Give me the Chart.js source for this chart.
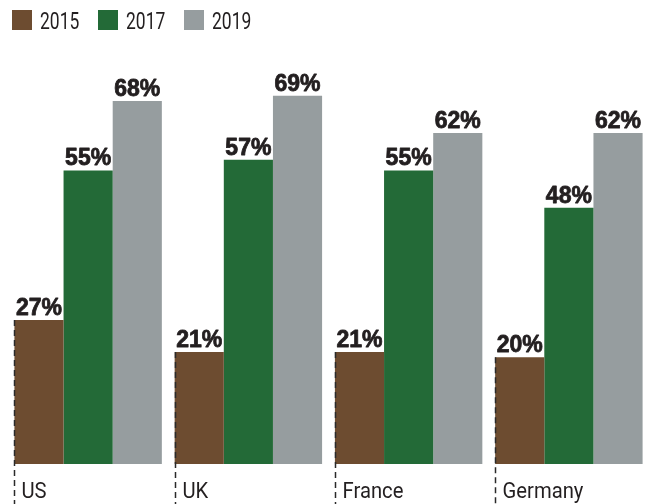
<!DOCTYPE html>
<html>
<head>
<meta charset="utf-8">
<script src="https://cdn.jsdelivr.net/npm/chart.js@4"></script>
<style>
  html, body { margin: 0; padding: 0; background: #ffffff; }
  #wrap { width: 651px; height: 504px; }
</style>
</head>
<body>
<div id="wrap"><canvas id="chart" width="651" height="504"></canvas></div>
<script>
const countries = ["US", "UK", "France", "Germany"];
const years = ["2015", "2017", "2019"];
const values2015 = [27, 21, 21, 20];
const values2017 = [55, 57, 55, 48];
const values2019 = [68, 69, 62, 62];
const colors = ["#6d4c30", "#236a37", "#969d9f"];

const textColor = "#231f20";

// draws condensed-looking text by squeezing it horizontally
function narrowText(ctx, text, x, y, squeeze) {
    ctx.save();
    ctx.translate(x, y);
    ctx.scale(squeeze, 1);
    ctx.fillText(text, 0, 0);
    ctx.restore();
}

// legend, value labels, country labels and the dashed separators
const decorations = {
    id: "decorations",
    afterDatasetsDraw(chart) {
        const ctx = chart.ctx;
        ctx.save();

        // value labels above each bar (a thin stroke makes them heavier)
        ctx.fillStyle = textColor;
        ctx.strokeStyle = textColor;
        ctx.lineWidth = 0.8;
        ctx.lineJoin = "round";
        ctx.font = "bold 23px 'Liberation Sans', Arial, sans-serif";
        ctx.textAlign = "center";
        ctx.textBaseline = "alphabetic";
        chart.data.datasets.forEach((ds, i) => {
            chart.getDatasetMeta(i).data.forEach((bar, j) => {
                const label = ds.data[j] + "%";
                ctx.fillText(label, bar.x, bar.y - 5);
                ctx.strokeText(label, bar.x, bar.y - 5);
            });
        });

        // dashed line on the left of each group + country name
        const first = chart.getDatasetMeta(0).data;
        first.forEach((bar, j) => {
            const left = Math.round(bar.x - bar.width / 2) + 0.5;
            ctx.strokeStyle = "#2a2a2a";
            ctx.lineWidth = 1.5;
            ctx.setLineDash([6, 4]);
            ctx.beginPath();
            ctx.moveTo(left, bar.y);
            ctx.lineTo(left, chart.height);
            ctx.stroke();

            ctx.setLineDash([]);
            ctx.fillStyle = textColor;
            ctx.font = "22px Roboto, sans-serif";
            ctx.textAlign = "left";
            narrowText(ctx, countries[j], left + 7, 498, 0.92);
        });

        // legend
        ctx.font = "23px Roboto, sans-serif";
        ctx.textAlign = "left";
        chart.data.datasets.forEach((ds, i) => {
            const x = 12 + i * 86;
            ctx.fillStyle = ds.backgroundColor;
            ctx.fillRect(x, 10, 20, 20);
            ctx.fillStyle = textColor;
            narrowText(ctx, ds.label, x + 28, 28.5, 0.76);
        });

        ctx.restore();
    }
};

new Chart(document.getElementById("chart"), {
    type: "bar",
    data: {
        labels: countries,
        datasets: [
            { label: years[0], data: values2015, backgroundColor: colors[0] },
            { label: years[1], data: values2017, backgroundColor: colors[1] },
            { label: years[2], data: values2019, backgroundColor: colors[2] },
        ],
    },
    options: {
        responsive: false,
        animation: false,
        layout: { padding: { left: 8, right: 2, top: 37, bottom: 40 } },
        datasets: {
            bar: { categoryPercentage: 0.92, barPercentage: 1.0, borderWidth: 0 },
        },
        plugins: {
            legend: { display: false },
            tooltip: { enabled: false },
        },
        scales: {
            x: { display: false },
            y: { display: false, min: 0, max: 80 },
        },
    },
    plugins: [decorations],
});
</script>
</body>
</html>
